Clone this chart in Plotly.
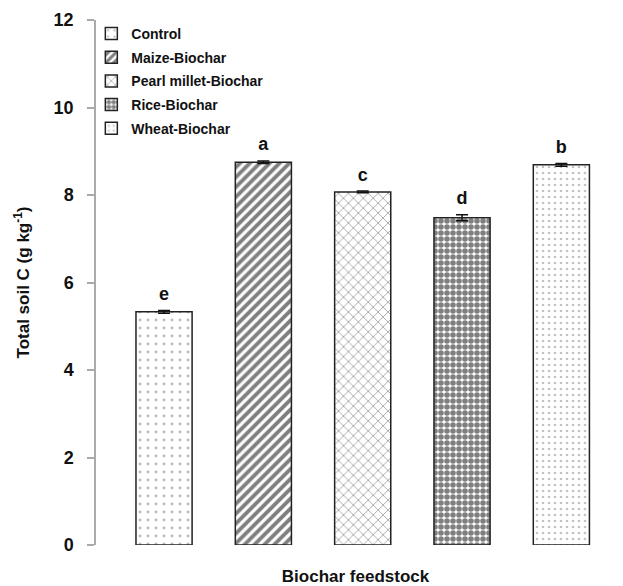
import plotly.graph_objects as go

categories = ["Control", "Maize-Biochar", "Pearl millet-Biochar", "Rice-Biochar", "Wheat-Biochar"]
values = [5.33, 8.75, 8.07, 7.48, 8.69]
errors = [0.03, 0.03, 0.02, 0.07, 0.03]
letters = ["e", "a", "c", "d", "b"]

shapes = [".", "/", "x", ".", "."]
fgcolors = ["#777777", "#000000", "#555555", "#000000", "#888888"]
sizes = [8, 7, 7, 6, 6]
solidities = [0.1, 0.55, 0.25, 0.68, 0.16]

FONT = "Arial, Liberation Sans, sans-serif"

fig = go.Figure()
for i, c in enumerate(categories):
    fig.add_trace(go.Bar(
        x=[c], y=[values[i]], name=c, width=0.565,
        legendgroup=c,
        marker=dict(color="white", line=dict(color="#222222", width=1.5),
                    pattern=dict(shape=shapes[i], fgcolor=fgcolors[i], bgcolor="white",
                                 size=sizes[i], solidity=solidities[i], fillmode="overlay")),
        error_y=dict(type="data", array=[errors[i]], color="#111111", thickness=1.5, width=6),
    ))

fig.add_trace(go.Scatter(
    x=categories, y=[v + e for v, e in zip(values, errors)], mode="markers+text",
    marker=dict(size=8, opacity=0),
    text=letters, textposition="top center", showlegend=False,
    textfont=dict(family=FONT, size=18, color="#111111", weight="bold"),
    hoverinfo="skip",
))

fig.update_layout(
    width=615, height=578,
    margin=dict(l=88, r=8, t=12, b=41),
    plot_bgcolor="white", paper_bgcolor="white",
    barmode="overlay",
    showlegend=True,
    legend=dict(x=-0.009, y=1.004, xanchor="left", yanchor="top",
                font=dict(family=FONT, size=14, color="#111111", weight="bold"),
                bgcolor="rgba(0,0,0,0)", traceorder="grouped", tracegroupgap=2.5,
                itemwidth=30),
    xaxis=dict(range=[-0.685, 4.54], showline=False, showticklabels=False, ticks="",
               showgrid=False, zeroline=False, automargin=False,
               title=dict(text="<b>Biochar feedstock</b>", standoff=27,
                          font=dict(family=FONT, size=17, color="#111111"))),
    yaxis=dict(range=[0, 12], dtick=2, showline=True, linecolor="#aaaaaa", linewidth=1.5,
               ticks="outside", ticklen=7, tickcolor="#aaaaaa", tickwidth=1.5,
               ticklabelstandoff=10,
               showgrid=False, zeroline=False, automargin=False,
               tickfont=dict(family=FONT, size=18, color="#111111", weight="bold"),
               title=dict(text="<b>Total soil C (g kg<sup>-1</sup>)</b>", standoff=20,
                          font=dict(family=FONT, size=17, color="#111111"))),
)

fig.write_html("out.html")
